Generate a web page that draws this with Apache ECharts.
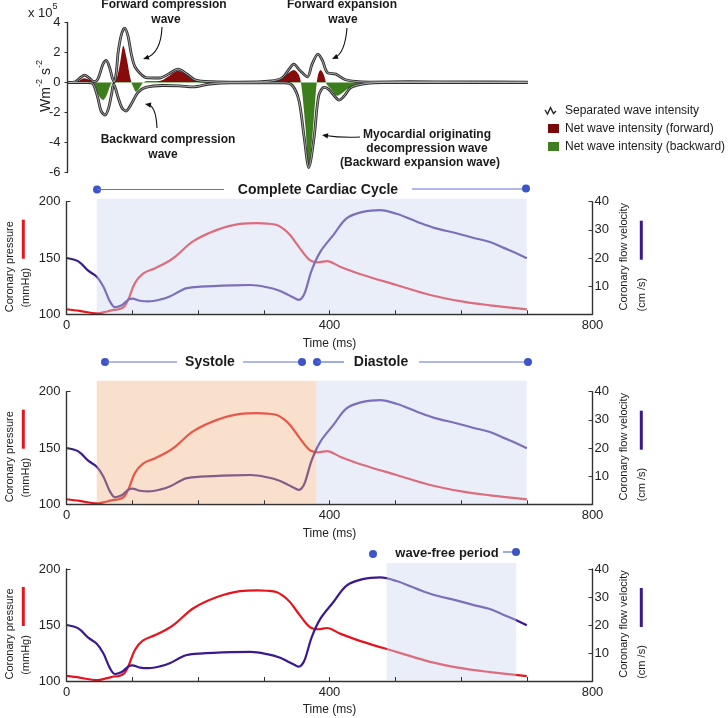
<!DOCTYPE html>
<html><head><meta charset="utf-8">
<script src="https://cdn.jsdelivr.net/npm/echarts@6/dist/echarts.min.js"></script>
<style>html,body{margin:0;padding:0;background:#fff}#c{width:728px;height:718px}</style>
</head><body><div id="c"></div>
<script>
// ---------------- DATA ----------------
// Wave intensity panel (x 10^5 W m^-2 s^-2), time in ms
const fwdTime = [0,12,19,26,33,40,45,49,54,59,64,68,71,74,77,82,87,92,97,102,107,113,119,140,155,168,182,195,220,260,310,327,337,344,354,365,372,381,388,395,408,421,438,460,520,600,700];
const fwdWave = [0,0.05,0.3,0.49,0.3,0.06,0.15,0.56,1.22,1.47,1.0,0.33,0.03,0.6,2.0,3.2,3.63,3.1,1.9,1.1,0.78,0.5,0.33,0.3,0.6,0.89,0.55,0.16,0.05,0.02,0.1,0.33,0.89,1.22,0.78,0.38,1.22,1.89,1.44,0.67,0.56,0.22,0.07,0.03,0.05,0.04,0.03];
const bwdTime = [0,32,39,46,51,57,62,67,70,73,77,83,89,97,107,119,145,170,191,216,250,330,342,352,360,367,375,382,390,397,408,413,421,431,454,480,700];
const bwdWave = [0,0,-0.1,-1.0,-1.89,-2.17,-1.78,-0.78,-0.1,-0.4,-1.0,-1.7,-1.9,-1.44,-0.67,-0.33,-0.2,-0.22,-0.29,-0.1,-0.02,-0.02,-0.2,-1.2,-3.67,-5.67,-3.67,-0.89,-0.33,-0.44,-1.0,-1.18,-0.89,-0.33,-0.07,0,0];
const netTime = [0,15,25,35,40,43,48,54,60,66,70,75,80,85,90,95,98,101,104,109,114,120,140,155,168,182,195,215,250,300,320,335,344,352,356,362,367,373,378,381,385,390,394,400,410,418,430,454,470,500,600,700];
const netWave = [0,0.05,0.29,0.15,0,-0.3,-0.9,-1.17,-0.8,-0.1,0.05,0.3,1.3,2.45,1.6,0.4,-0.1,-0.4,-0.62,-0.4,-0.05,0.08,0.1,0.45,0.78,0.5,0.12,0.05,0.02,0.03,0.15,0.6,0.83,0.5,-0.3,-3,-5.6,-3.3,-0.5,0.5,0.83,0.5,-0.1,-0.4,-0.89,-0.7,-0.3,-0.05,0.02,0.05,0.05,0.04];
const waveTicks = [-6, 4, 2];           // min, max, interval

// Coronary pressure (mmHg) and flow velocity (cm/s)
const pressureTime = [0,20,46,62,72,80,88,94,104,116,135,152,165,193,229,264,290,305,320,330,340,355,370,383,396,416,451,502,553,603,644,700];
const pressure     = [104.5,103,100.8,102.5,104,104.5,107,113,127.7,136,141,146,151,165,175,180.3,181,180.6,179.3,175.8,170.4,158.6,148.2,146.2,147.3,142.3,134.9,126,117.1,111.2,108,104.4];
const flowTime = [0,18,33,46,56,66,74,84,94,100,112,125,142,157,172,183,203,253,280,305,325,337,348,353,358,363,373,386,406,426,451,477,502,533,558,593,618,644,665,685,700];
const flow     = [20,18.8,15.5,13.3,9.9,4.6,2.5,3.2,5.2,5.6,4.8,4.6,5.2,6.3,8.2,9.3,9.8,10.3,10.4,9.6,8.3,6.9,5.6,5.1,5.8,8,15.7,22.2,28.2,34.1,36.4,37,35.7,32.9,30.8,28.8,27.2,25.7,23.6,21.6,19.9];

// periods (ms)
const cyclePeriod = [46, 700];
const systolePeriod = [46, 380];
const diastolePeriod = [380, 700];
const waveFreePeriod = [487, 684];

// axes
const timeAxis = [0, 800, 100];
const timeLabels = [0, 400, 800];
const pressureAxis = [100, 200, 50];
const flowAxis = [0, 40, 10];

// ---------------- STYLE ----------------
const FF = '"Liberation Sans", Arial, Helvetica, sans-serif';
const RED = '#e6141c', PURPLE = '#3a1a8c';
const NET_RED = '#870b0b', NET_GREEN = '#3c7e1c';
const zip = (a, b) => a.map((t, i) => [t, b[i]]);

const L = 66.5, W = 526;
const panelTops = [201.7, 391.7, 569];
const panelH = [112.6, 112.6, 112];

const grid = [{ left: 67.5, top: 22.5, width: W, height: 150 }];
panelTops.forEach((t, i) => grid.push({ left: L, top: t, width: W, height: panelH[i] }));

const axisLine = { show: true, lineStyle: { color: '#333', width: 1.4 } };
const lbl = { fontFamily: FF, fontSize: 13, color: '#222' };

const xAxis = [{ gridIndex: 0, type: 'value', min: timeAxis[0], max: timeAxis[1], show: false }];
const yAxis = [{
  gridIndex: 0, type: 'value', min: waveTicks[0], max: waveTicks[1], interval: waveTicks[2],
  axisLine, axisTick: { show: true, length: 3, lineStyle: { color: '#333' } },
  axisLabel: Object.assign({ margin: 7 }, lbl), splitLine: { show: false }, z: 10
}];
for (let g = 1; g <= 3; g++) {
  xAxis.push({
    gridIndex: g, type: 'value', min: timeAxis[0], max: timeAxis[1], interval: timeAxis[2], z: 10,
    axisLine, axisTick: { inside: true, length: 4, lineStyle: { color: '#333' } },
    axisLabel: Object.assign({ margin: 5, formatter: v => timeLabels.indexOf(v) >= 0 ? String(v) : '' }, lbl),
    splitLine: { show: false },
    name: 'Time (ms)', nameLocation: 'middle', nameGap: 23,
    nameTextStyle: { fontFamily: FF, fontSize: 12, color: '#222' }
  });
  yAxis.push({
    gridIndex: g, type: 'value', min: pressureAxis[0], max: pressureAxis[1], interval: pressureAxis[2], z: 10,
    axisLine, axisTick: { inside: true, length: 4, lineStyle: { color: '#333' } },
    axisLabel: Object.assign({ margin: 6 }, lbl), splitLine: { show: false }
  });
  yAxis.push({
    gridIndex: g, type: 'value', position: 'right', min: flowAxis[0], max: flowAxis[1], interval: flowAxis[2], z: 10,
    axisLine, axisTick: { inside: true, length: 4, lineStyle: { color: '#333' } },
    axisLabel: Object.assign({ margin: 2, formatter: v => v === 0 ? '' : String(v) }, lbl), splitLine: { show: false }
  });
}

const series = [
  { type: 'line', name: 'net', xAxisIndex: 0, yAxisIndex: 0, data: zip(netTime, netWave), symbol: 'none',
    smooth: 0.3, lineStyle: { width: 0 }, areaStyle: { opacity: 1 }, z: 2, silent: true },
  { type: 'line', xAxisIndex: 0, yAxisIndex: 0, data: zip(fwdTime, fwdWave), symbol: 'none', smooth: 0.3,
    lineStyle: { color: '#2e2e2e', width: 2.8 }, z: 3, silent: true },
  { type: 'line', xAxisIndex: 0, yAxisIndex: 0, data: zip(bwdTime, bwdWave), symbol: 'none', smooth: 0.3,
    lineStyle: { color: '#2e2e2e', width: 2.8 }, z: 3, silent: true },
  { type: 'line', xAxisIndex: 0, yAxisIndex: 0, data: zip(fwdTime, fwdWave), symbol: 'none', smooth: 0.3,
    lineStyle: { color: '#c8c8c8', width: 0.8 }, z: 4, silent: true },
  { type: 'line', xAxisIndex: 0, yAxisIndex: 0, data: zip(bwdTime, bwdWave), symbol: 'none', smooth: 0.3,
    lineStyle: { color: '#c8c8c8', width: 0.8 }, z: 4, silent: true }
];
for (let g = 1; g <= 3; g++) {
  series.push({ type: 'line', xAxisIndex: g, yAxisIndex: 2 * g - 1, data: zip(pressureTime, pressure), symbol: 'none',
    smooth: 0.35, lineStyle: { color: RED, width: 2.2 }, z: 3, silent: true });
  series.push({ type: 'line', xAxisIndex: g, yAxisIndex: 2 * g, data: zip(flowTime, flow), symbol: 'none',
    smooth: 0.35, lineStyle: { color: PURPLE, width: 2.2 }, z: 3, silent: true });
}

const chart = echarts.init(document.getElementById('c'), null, { renderer: 'canvas' });
chart.setOption({
  animation: false,
  backgroundColor: '#ffffff',
  grid, xAxis, yAxis, series,
  visualMap: [{ type: 'piecewise', show: false, seriesIndex: 0, dimension: 1,
    pieces: [{ gte: waveTicks[0], lt: 0, color: NET_GREEN }, { gte: 0, lte: waveTicks[1], color: NET_RED }] }]
});

// ---------------- GRAPHICS ----------------
const G = [];
const BLUE_SHADE = 'rgba(209,218,242,0.45)', ORANGE_SHADE = 'rgba(238,180,135,0.42)';
function shade(g, range, color, ext) {
  const f = { xAxisIndex: g, yAxisIndex: 2 * g - 1 };
  const a = chart.convertToPixel(f, [range[0], pressureAxis[1]]);
  const b = chart.convertToPixel(f, [range[1], pressureAxis[0]]);
  G.push({ type: 'rect', silent: true, z: 6, shape: { x: a[0], y: a[1] - ext, width: b[0] - a[0], height: b[1] - a[1] + ext - 1 },
    style: { fill: color } });
}
shade(1, cyclePeriod, BLUE_SHADE, 3);
shade(2, systolePeriod, ORANGE_SHADE, 11);
shade(2, diastolePeriod, BLUE_SHADE, 11);
shade(3, waveFreePeriod, BLUE_SHADE, 6);

function T(x, y, text, o = {}) {
  const al = o.align || 'center';
  return { type: 'text', x, y, rotation: o.rot || 0, silent: true, z: 100,
    style: { text, font: o.font || ('12px ' + FF), fill: o.fill || '#1a1a1a',
      align: al, textAlign: al, verticalAlign: 'middle', textVerticalAlign: 'middle', rich: o.rich } };
}
function arrow(x1, y1, cx, cy, x2, y2) {
  const a = Math.atan2(y2 - cy, x2 - cx), Lh = 6, Wh = 2.6;
  const c = Math.cos(a), s = Math.sin(a);
  G.push({ type: 'bezierCurve', silent: true, z: 100, shape: { x1, y1, x2: x2 - c * 3, y2: y2 - s * 3, cpx1: cx, cpy1: cy },
    style: { stroke: '#111', lineWidth: 1.1, fill: null } });
  G.push({ type: 'polygon', silent: true, z: 100, shape: { points: [[x2, y2],
    [x2 - Lh * c + Wh * s, y2 - Lh * s - Wh * c], [x2 - Lh * c - Wh * s, y2 - Lh * s + Wh * c]] },
    style: { fill: '#111' } });
}
const B12 = 'bold 12px ' + FF;
G.push(T(28, 11, '{a|x 10}{b|5}', { align: 'left', rich: {
  a: { fontFamily: FF, fontSize: 13, fill: '#222', lineHeight: 18, verticalAlign: 'bottom' },
  b: { fontFamily: FF, fontSize: 9, fill: '#222', verticalAlign: 'top' } } }));
G.push(T(44, 86, '{a|Wm}{b|-2}{a| s}{b|-2}', { rot: Math.PI / 2, rich: {
  a: { fontFamily: FF, fontSize: 14, fill: '#222', lineHeight: 18, verticalAlign: 'bottom' },
  b: { fontFamily: FF, fontSize: 9, fill: '#222', verticalAlign: 'top' } } }));
G.push(T(164, 5, 'Forward compression', { font: B12 }));
G.push(T(166, 20, 'wave', { font: B12 }));
arrow(162, 27, 161, 53, 143, 59);
G.push(T(168, 140, 'Backward compression', { font: B12 }));
G.push(T(163, 155, 'wave', { font: B12 }));
arrow(157, 128, 156, 106, 145, 104);
G.push(T(342, 5, 'Forward expansion', { font: B12 }));
G.push(T(343, 20, 'wave', { font: B12 }));
arrow(347, 28, 345, 53, 332, 59);
G.push(T(427, 135, 'Myocardial originating', { font: B12 }));
G.push(T(427, 149, 'decompression wave', { font: B12 }));
G.push(T(420, 163, '(Backward expansion wave)', { font: B12 }));
arrow(360, 137, 342, 138, 322, 135);
// legend
G.push({ type: 'polyline', silent: true, z: 100, shape: { points: [[545, 110], [547.5, 114], [550.5, 107.5], [553.5, 113.5], [556, 111]] },
  style: { stroke: '#222', lineWidth: 1.4, fill: null } });
G.push(T(565, 111, 'Separated wave intensity', { align: 'left', font: '12px ' + FF }));
G.push({ type: 'rect', silent: true, z: 100, shape: { x: 548, y: 124, width: 11, height: 9 }, style: { fill: '#7a0a0a' } });
G.push(T(565, 129, 'Net wave intensity (forward)', { align: 'left', font: '12px ' + FF }));
G.push({ type: 'rect', silent: true, z: 100, shape: { x: 548, y: 142, width: 11, height: 9 }, style: { fill: '#3f7f22' } });
G.push(T(565, 147, 'Net wave intensity (backward)', { align: 'left', font: '12px ' + FF }));

// axis names for lower panels
const F11 = '11px ' + FF;
panelTops.forEach(top => {
  G.push(T(10, top + 65, 'Coronary pressure', { rot: Math.PI / 2, font: F11 }));
  G.push({ type: 'rect', silent: true, z: 100, shape: { x: 21.8, y: top + 18, width: 3, height: 39 }, style: { fill: RED } });
  G.push(T(25.5, top + 86, '(mmHg)', { rot: Math.PI / 2, font: F11 }));
  G.push(T(624, top + 55, 'Coronary flow velocity', { rot: Math.PI / 2, font: F11 }));
  G.push({ type: 'rect', silent: true, z: 100, shape: { x: 639.8, y: top + 19, width: 3, height: 39 }, style: { fill: PURPLE } });
  G.push(T(642, top + 93, '(cm /s)', { rot: Math.PI / 2, font: F11 }));
});

// brackets
function dot(x, y) { G.push({ type: 'circle', silent: true, z: 100, shape: { cx: x, cy: y, r: 4 }, style: { fill: '#3d55c8' } }); }
function hl(x1, x2, y) { G.push({ type: 'line', silent: true, z: 100, shape: { x1, y1: y, x2, y2: y }, style: { stroke: '#6172d2', lineWidth: 1.2 } }); }
const B14 = 'bold 14px ' + FF;
dot(97, 189.5); hl(97, 224, 189.5); G.push(T(318, 190, 'Complete Cardiac Cycle', { font: B14 })); hl(412, 525, 189); dot(526, 188.5);
dot(105, 362); hl(105, 177, 362); G.push(T(210, 362, 'Systole', { font: B14 })); hl(243, 302, 362); dot(302, 362);
dot(317, 362); hl(317, 344, 362); G.push(T(381, 362, 'Diastole', { font: B14 })); hl(419, 528, 362); dot(528, 362);
dot(373, 554); G.push(T(447, 553, 'wave-free period', { font: 'bold 13px ' + FF })); hl(503, 515, 552); dot(516, 552);

chart.setOption({ graphic: { elements: G } });
</script>
</body></html>
